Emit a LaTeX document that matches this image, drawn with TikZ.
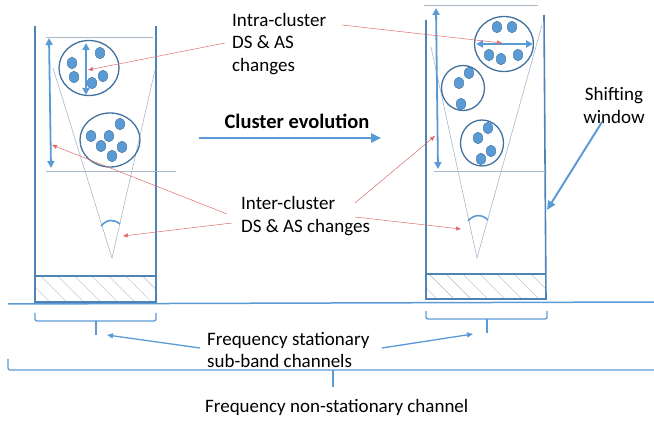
\documentclass[tikz,border=0pt]{standalone}
\usepackage{fontspec}
\setmainfont{Carlito}
\usetikzlibrary{arrows.meta,patterns.meta,shapes.geometric}
\definecolor{winblue}{HTML}{5B9BD5}
\definecolor{rimblue}{HTML}{41719C}
\definecolor{thingray}{HTML}{A9B7C8}
\definecolor{notered}{HTML}{E06C6C}

\begin{document}
\begin{tikzpicture}[
    x=1pt,y=-1pt,
    wall/.style={draw=winblue!85!black,line width=1.6pt},
    hatch/.style={pattern={Lines[angle=-45,distance=12pt,line width=0.4pt]},pattern color=thingray},
    guide/.style={draw=thingray,line width=0.6pt},
    cluster/.style={draw=rimblue,ellipse,line width=1.3pt,inner sep=0pt},
    dot/.style={fill=winblue,draw=rimblue,line width=0.4pt},
    spread/.style={{Triangle[length=7pt,width=7pt]}-{Triangle[length=7pt,width=7pt]},line width=1.8pt,winblue},
    beam/.style={line width=1.6pt,winblue},
    note/.style={-{Triangle[length=5pt,width=4pt]},line width=0.5pt,notered},
    bluearr/.style={-{Triangle[length=10pt,width=9pt]},line width=2.4pt,winblue},
    pointer/.style={-{Triangle[length=6pt,width=5pt]},line width=1.3pt,winblue},
    brace/.style={draw=winblue,line width=1.3pt,rounded corners=2pt},
    label/.style={font=\fontsize{19}{22.5}\selectfont,align=left,anchor=west,inner sep=0pt}
  ]
    \useasboundingbox (0,0) rectangle (654,422);

    % left window
    \fill[hatch] (35,276) rectangle (156,302);
    \draw[wall] (35,26) -- (35,302) -- (156,302) -- (156,26);
    \draw[wall] (35,276) -- (156,276);
    \draw[guide] (46,37) -- (153,37);
    \draw[guide] (46,171) -- (176,171);
    \draw[guide] (53,68) -- (112,258) -- (155,70);
    \draw[beam] (101,226) .. controls (107,219) and (114,219) .. (120,224);
    \draw[spread] (49,38) -- (51,168);

    \node[cluster,minimum width=60pt,minimum height=55pt] (lc1) at (89,68) {};
    \node[cluster,minimum width=60pt,minimum height=54pt] (lc2) at (110,140) {};
    \foreach \p in {(72,63),(74,77),(100,53),(103,76),(92,83),
                    (91,136),(109,136),(120,124),(101,146),(122,147),(112,156)}
      \filldraw[dot] \p ellipse (4.8 and 5.8);
    \draw[spread] (86,43) -- (86,95);

    % right window
    \fill[hatch] (426,274) rectangle (546,299);
    \draw[wall] (426,20) -- (426,299) -- (546,299) -- (544,15);
    \draw[wall] (426,274) -- (546,274);
    \draw[guide] (424,5) -- (538,5);
    \draw[guide] (434,171) -- (547,171);
    \draw[guide] (431,47) -- (477,258) -- (542,25);
    \draw[beam] (468,221) .. controls (474,214) and (482,214) .. (488,220);
    \draw[spread] (436,8) -- (438,169);

    \node[cluster,minimum width=59pt,minimum height=55pt] (rc1) at (504,44) {};
    \node[cluster,minimum width=43pt,minimum height=45pt] (rc2) at (463,88) {};
    \node[cluster,minimum width=43pt,minimum height=46pt] (rc3) at (482,143) {};
    \foreach \p in {(497,27),(512,27),(489,55),(501,59),(518,55),
                    (469,73),(459,83),(461,104),
                    (488,128),(478,138),(491,151),(481,159)}
      \filldraw[dot] \p ellipse (4.8 and 5.8);
    \draw[spread] (476,44) -- (533,44);

    % ground
    \draw[draw=winblue,line width=1.5pt] (8,304) -- (654,302);

    % labels
    \node[label] (intra) at (232,44) {Intra-cluster\\DS \& AS\\changes};
    \node[label] (inter) at (241,216) {Inter-cluster\\DS \& AS changes};
    \node[font=\fontsize{20.5}{24}\selectfont\bfseries,inner sep=0pt] (evol) at (297,121) {Cluster evolution};
    \node[font=\fontsize{19}{23}\selectfont,align=center,inner sep=0pt] (shift) at (614,105) {Shifting\\window};
    \node[label] (stat) at (207,350) {Frequency stationary\\sub-band channels};
    \node[label] (nonstat) at (205,407) {Frequency non-stationary channel};

    % red notes
    \coordinate (ia) at (225,43);  \coordinate (ita) at (88,70);
    \coordinate (ib) at (342,25);  \coordinate (itb) at (502,43);
    \coordinate (ea) at (227,214); \coordinate (eta) at (52,145);
    \coordinate (eb) at (232,223); \coordinate (etb) at (123,236);
    \coordinate (ec) at (355,203); \coordinate (etc) at (435,136);
    \coordinate (ed) at (355,217); \coordinate (etd) at (461,229);
    \draw[note] (ia) -- (ita);
    \draw[note] (ib) -- (itb);
    \draw[note] (ea) -- (eta);
    \draw[note] (eb) -- (etb);
    \draw[note] (ec) -- (etc);
    \draw[note] (ed) -- (etd);

    % blue arrows
    \coordinate (evs) at (199,138); \coordinate (eve) at (381,138);
    \draw[bluearr] (evs) -- (eve);
    \coordinate (sws) at (602,122); \coordinate (swe) at (547,210);
    \draw[bluearr,line width=2pt,-{Triangle[length=9pt,width=8pt]}] (sws) -- (swe);

    % braces
    \draw[brace] (35,313) -- (35,321) -- (156,321) -- (156,313);
    \draw[brace] (426,311) -- (426,319) -- (547,319) -- (547,311);
    \draw[brace] (8,359) -- (8,370) -- (660,370);
    \coordinate (lt) at (96,335);  \coordinate (rt) at (487,333);
    \coordinate (bt) at (333,387);
    \draw[brace] (96,321) -- (lt);
    \draw[brace] (487,319) -- (rt);
    \draw[brace] (333,370) -- (bt);
    \coordinate (psl) at (200,348); \coordinate (pel) at (107,335);
    \coordinate (psr) at (382,348); \coordinate (per) at (473,334);
    \draw[pointer] (psl) -- (pel);
    \draw[pointer] (psr) -- (per);
  \end{tikzpicture}
\end{document}
